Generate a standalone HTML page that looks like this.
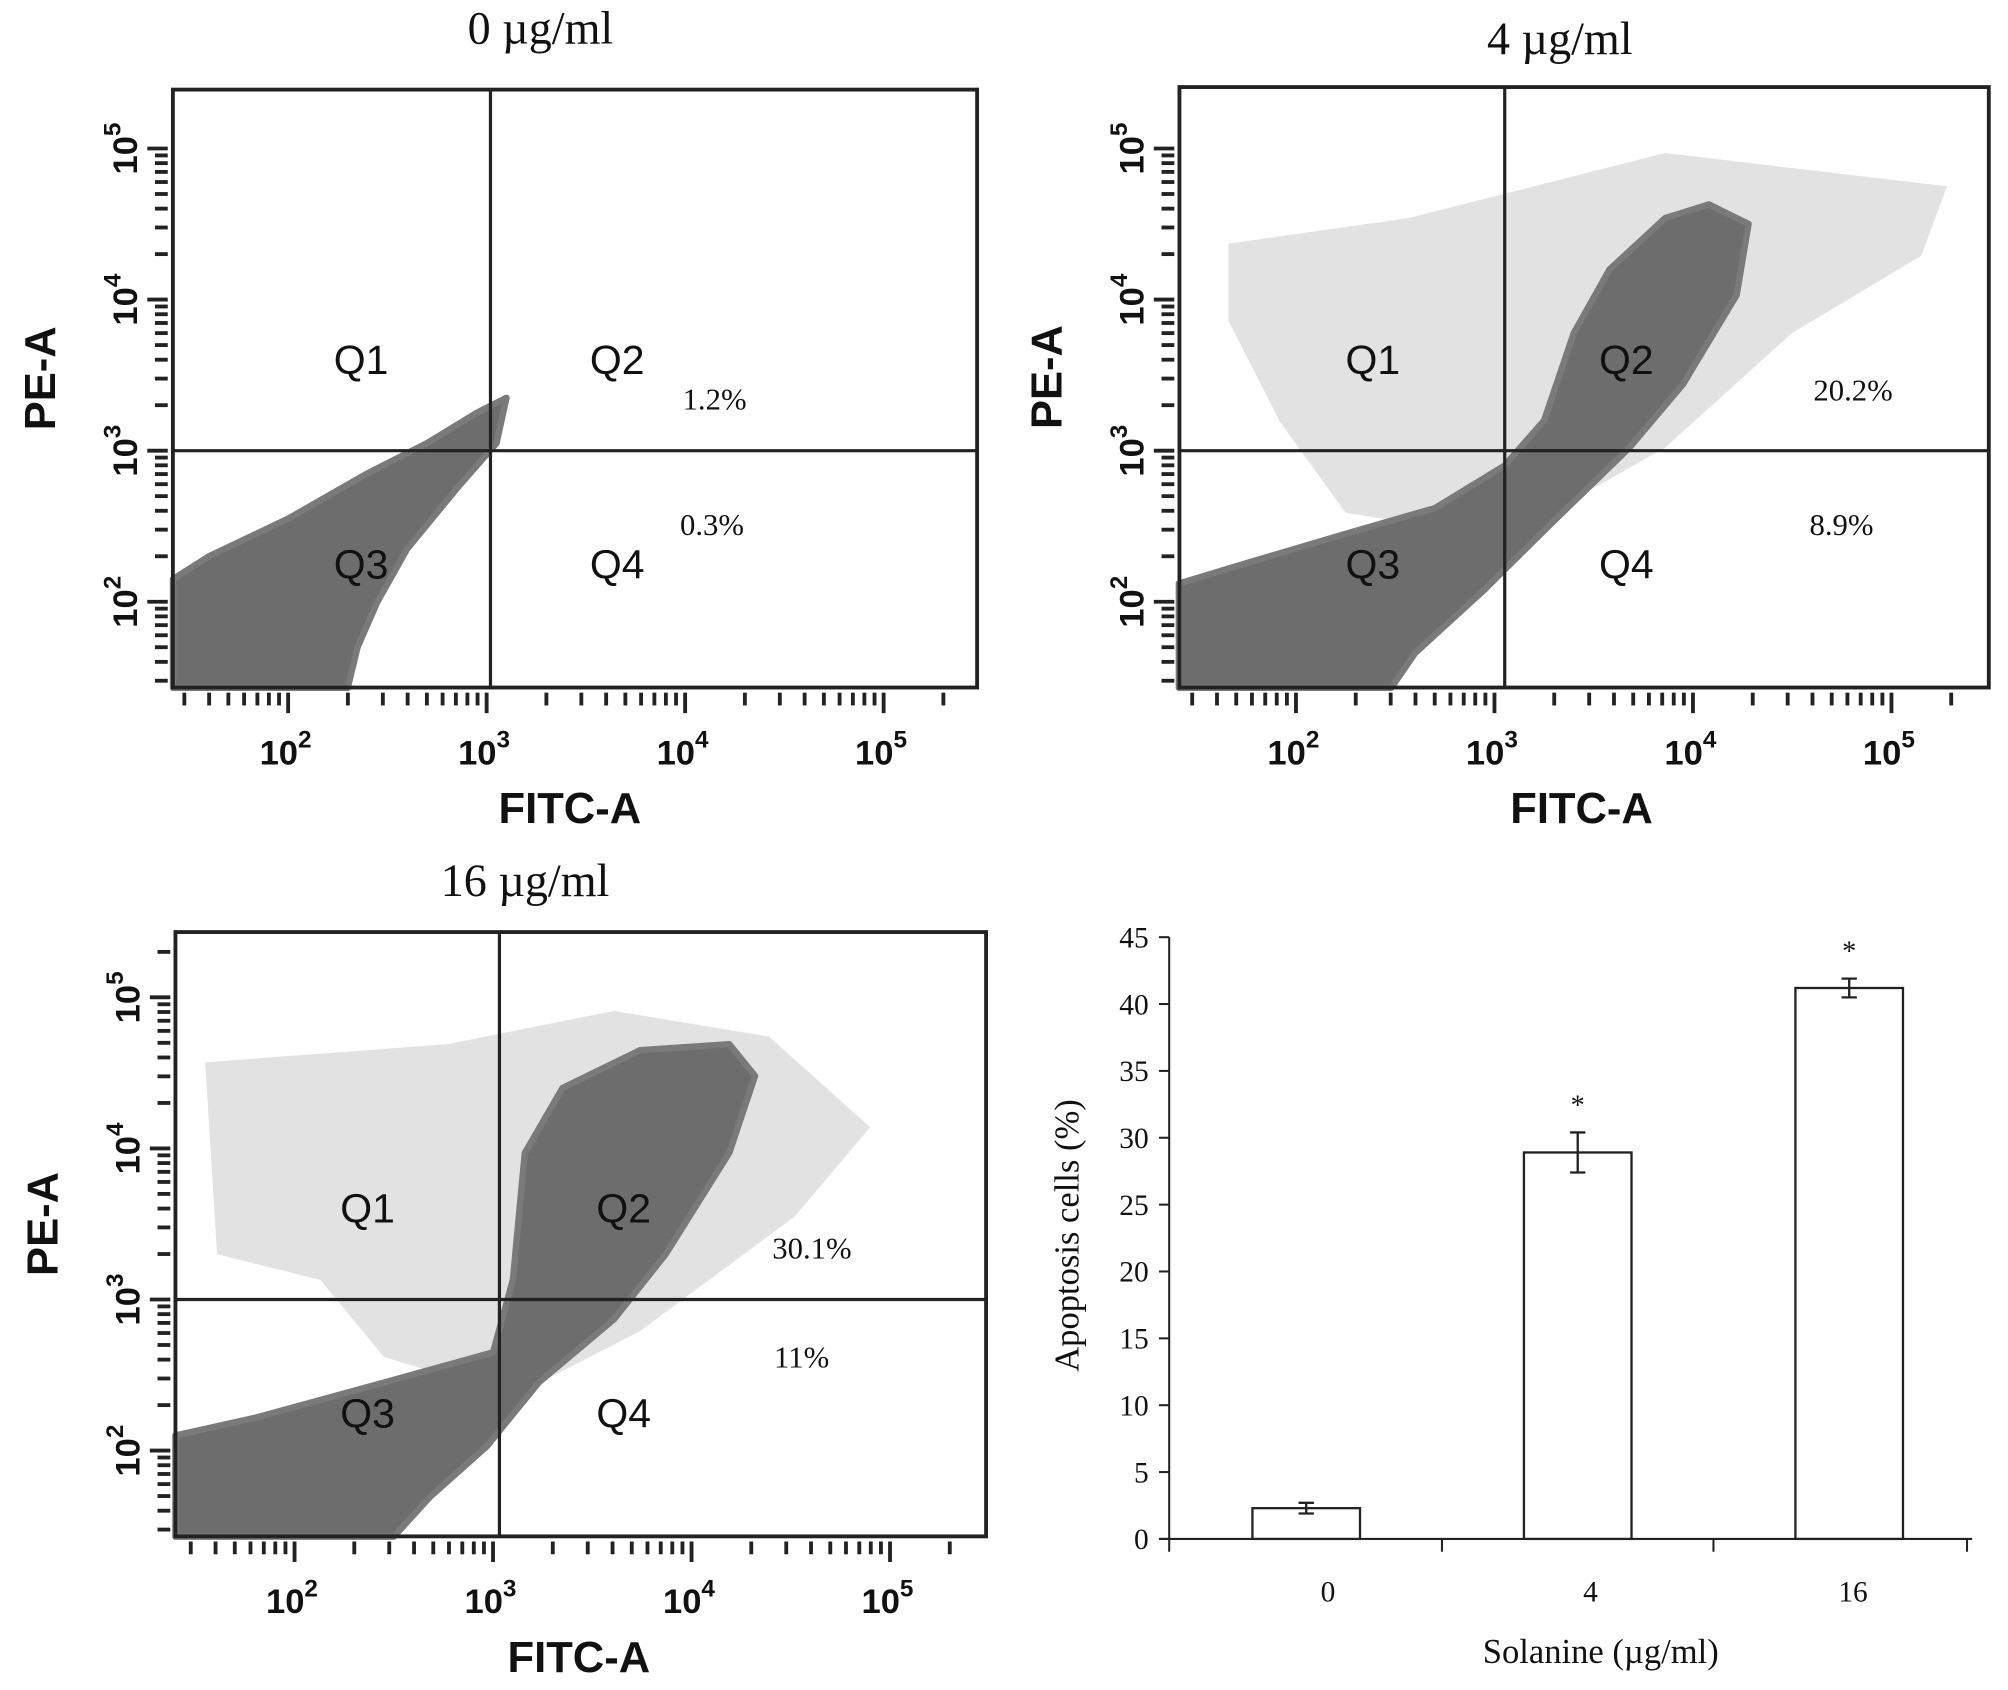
<!DOCTYPE html>
<html><head><meta charset="utf-8"><style>
html,body{margin:0;padding:0;background:#fff;}
svg{display:block;}
.t{font-family:"Liberation Serif",serif;fill:#111;}
.s{font-family:"Liberation Sans",sans-serif;fill:#111;}
</style></head><body>
<svg id="fig" width="2008" height="1690" viewBox="0 0 1568 1320" preserveAspectRatio="none" xmlns="http://www.w3.org/2000/svg"></svg>
<script>
// ---- bar chart data ----
const barCategories = ["0", "4", "16"];
const barValues = [2.3, 28.9, 41.2];
const barErrors = [0.4, 1.5, 0.7];
const barYTicks = [0, 5, 10, 15, 20, 25, 30, 35, 40, 45];
const barStars = [false, true, true];
// ---- flow panels data ----
const panelTitles = ["0 µg/ml", "4 µg/ml", "16 µg/ml"];
const panelQ2Pct = ["1.2%", "20.2%", "30.1%"];
const panelQ4Pct = ["0.3%", "8.9%", "11%"];
const decadeLabels = ["2", "3", "4", "5"];
// dense clouds in log10 (FITC, PE) coords
const cloud0 = [[1.42,1.43],[1.42,2.15],[1.6,2.3],[2.0,2.55],[2.4,2.85],[2.7,3.05],[2.95,3.25],[3.1,3.35],[3.05,3.05],[2.85,2.75],[2.6,2.35],[2.45,2.0],[2.35,1.7],[2.3,1.43]];
const cloud1 = [[1.41,1.43],[1.41,2.12],[1.66,2.22],[2.25,2.45],[2.70,2.62],[3.05,2.9],[3.25,3.2],[3.4,3.78],[3.58,4.20],[3.86,4.54],[4.08,4.63],[4.28,4.50],[4.22,4.03],[3.95,3.44],[3.68,3.02],[3.28,2.51],[2.95,2.08],[2.6,1.66],[2.48,1.43]];
const sparse1 = [[1.66,4.37],[2.57,4.54],[3.86,4.97],[5.28,4.75],[5.15,4.29],[4.50,3.78],[3.86,3.02],[3.05,2.42],[2.25,2.59],[1.92,3.19],[1.66,3.86]];
const cloud2 = [[1.40,1.43],[1.40,2.1],[1.81,2.22],[2.45,2.45],[3.0,2.65],[3.10,3.13],[3.16,3.97],[3.35,4.40],[3.74,4.65],[4.19,4.69],[4.32,4.48],[4.19,3.97],[3.87,3.30],[3.61,2.87],[3.23,2.45],[2.97,2.03],[2.68,1.69],[2.5,1.43]];
const sparse2 = [[1.55,4.57],[2.77,4.69],[3.61,4.91],[4.39,4.74],[4.90,4.14],[4.52,3.55],[3.74,2.79],[3.10,2.36],[2.45,2.62],[2.13,3.13],[1.61,3.30]];

const NS = "http://www.w3.org/2000/svg";
const svg = document.getElementById("fig");
function mk(tag, attrs, parent, text) {
  const e = document.createElementNS(NS, tag);
  for (const k in attrs) e.setAttribute(k, attrs[k]);
  if (text !== undefined) e.textContent = text;
  (parent || svg).appendChild(e);
  return e;
}

const panels = [
  {box:[135,70,763,537], x2:225, y2:470, qx:383, qy:352, title:[422,34], cloud:cloud0, sparse:null, pct2:[558,312], pct4:[556,410], ql:[282,482], fx:445},
  {box:[921,68,1553,537], x2:1012, y2:470, qx:1175, qy:352, title:[1218,42], cloud:cloud1, sparse:sparse1, pct2:[1447,305], pct4:[1438,410], ql:[1072,1270], fx:1235},
  {box:[137,728,770,1200], x2:230, y2:1133, qx:390, qy:1015, title:[410,700], cloud:cloud2, sparse:sparse2, pct2:[634,975], pct4:[626,1060], ql:[287,487], fx:452}
];
const DX = 155, DY = 118;

panels.forEach((p, i) => {
  const g = mk("g", {});
  
  
  const xs = l => p.x2 + (l - 2) * DX;
  const ys = l => p.y2 - (l - 2) * DY;
  const [x0, y0, x1, y1] = p.box;
  const t = mk("text", {x:p.title[0], y:p.title[1], "text-anchor":"middle", "font-size":36, class:"t"}, g, panelTitles[i]);
  
  
  if (p.sparse) {
    const sp = mk("polygon", {points:p.sparse.map(q => xs(q[0]) + "," + ys(q[1])).join(" "), fill:"#8a8a8a", "fill-opacity":0.25, stroke:"none"}, g);
    
    
  }
  const cl = mk("polygon", {points:p.cloud.map(q => xs(q[0]) + "," + ys(q[1])).join(" "), fill:"#6d6d6d", stroke:"#7a7a7a", "stroke-width":5, "stroke-linejoin":"round"}, g);
  
  
  const bx = mk("rect", {x:x0, y:y0, width:x1 - x0, height:y1 - y0, fill:"none", stroke:"#222", "stroke-width":3}, g);
  
  
  const qv = mk("line", {x1:p.qx, y1:y0, x2:p.qx, y2:y1, stroke:"#222", "stroke-width":2.5}, g);
  
  
  const qh = mk("line", {x1:x0, y1:p.qy, x2:x1, y2:p.qy, stroke:"#222", "stroke-width":2.5}, g);
  
  
  for (let d = 1; d <= 5; d++) {
    for (let m = 1; m <= 9; m++) {
      const l = d + Math.log10(m);
      const X = xs(l);
      if (X < x0 + 2 || X > x1 - 5) continue;
      mk("line", {x1:X, y1:y1 + 4, x2:X, y2:y1 + (m === 1 ? 20 : 14), stroke:"#222", "stroke-width":3}, g);
    }
  }
  for (let d = 1; d <= 5; d++) {
    for (let m = 1; m <= 9; m++) {
      const l = d + Math.log10(m);
      const Y = ys(l);
      if (Y > y1 - 2 || Y < y0 + 15) continue;
      mk("line", {x1:x0 - 4, y1:Y, x2:x0 - (m === 1 ? 20 : 14), y2:Y, stroke:"#222", "stroke-width":3}, g);
    }
  }
  decadeLabels.forEach((lab, k) => {
    const X = xs(k + 2);
    const tx = mk("text", {x:X - 2, y:y1 + 60, "text-anchor":"middle", "font-size":27, "font-weight":"bold", class:"s"}, g);
    
    
    mk("tspan", {}, tx, "10");
    mk("tspan", {dy:-13, "font-size":19}, tx, lab);
    const Y = ys(k + 2);
    const ty = mk("text", {x:0, y:0, transform:"translate(" + (x0 - 28) + "," + Y + ") rotate(-90)", "text-anchor":"middle", "font-size":27, "font-weight":"bold", class:"s"}, g);
    
    
    mk("tspan", {}, ty, "10");
    mk("tspan", {dy:-13, "font-size":19}, ty, lab);
  });
  const xt = mk("text", {x:p.fx, y:y1 + 106, "text-anchor":"middle", "font-size":34, "font-weight":"bold", class:"s"}, g, "FITC-A");
  
  
  const yt = mk("text", {x:0, y:0, transform:"translate(" + (x0 - 92) + "," + ((y0 + y1) / 2 - 8) + ") rotate(-90)", "text-anchor":"middle", "font-size":34, "font-weight":"bold", class:"s"}, g, "PE-A");
  
  
  [["Q1", p.ql[0], p.qy - 60], ["Q2", p.ql[1], p.qy - 60], ["Q3", p.ql[0], p.qy + 100], ["Q4", p.ql[1], p.qy + 100]].forEach(q => {
    const ql = mk("text", {x:q[1], y:q[2], "text-anchor":"middle", "font-size":32, class:"s"}, g, q[0]);
    
    
  });
  const p2 = mk("text", {x:p.pct2[0], y:p.pct2[1] + 8, "text-anchor":"middle", "font-size":24, class:"t"}, g, panelQ2Pct[i]);
  
  
  const p4 = mk("text", {x:p.pct4[0], y:p.pct4[1] + 8, "text-anchor":"middle", "font-size":24, class:"t"}, g, panelQ4Pct[i]);
  
  
});

// ---- bar chart ----
const bc = mk("g", {});


const AX = 913, AY0 = 1202, AYTOP = 732, AXEND = 1540;
const yv = v => AY0 - v * (AY0 - AYTOP) / 45;
const catX = k => 1020 + k * 212;
const BW = 84;
const yaxis = mk("line", {x1:AX, y1:AYTOP, x2:AX, y2:AY0, stroke:"#222", "stroke-width":1.6}, bc);


const xaxis = mk("line", {x1:AX - 8, y1:AY0, x2:AXEND, y2:AY0, stroke:"#222", "stroke-width":1.6}, bc);


barYTicks.forEach(v => {
  mk("line", {x1:AX - 8, y1:yv(v), x2:AX, y2:yv(v), stroke:"#222", "stroke-width":1.6}, bc);
  const tl = mk("text", {x:AX - 16, y:yv(v) + 8, "text-anchor":"end", "font-size":23, class:"t"}, bc, String(v));
  
  
});
for (let k = 0; k <= barCategories.length; k++) {
  let X;
  if (k === 0) X = AX;
  else if (k === barCategories.length) X = 1536;
  else X = (catX(k - 1) + catX(k)) / 2;
  mk("line", {x1:X, y1:AY0, x2:X, y2:AY0 + 10, stroke:"#222", "stroke-width":1.6}, bc);
}
barCategories.forEach((c, k) => {
  const cx = catX(k);
  const r = mk("rect", {x:cx - BW / 2, y:yv(barValues[k]), width:BW, height:AY0 - yv(barValues[k]), fill:"#fff", stroke:"#222", "stroke-width":1.8}, bc);
  
  
  const hi = yv(barValues[k] + barErrors[k]), lo = yv(barValues[k] - barErrors[k]);
  const eb = mk("path", {d:"M" + cx + "," + hi + "V" + lo + "M" + (cx - 6) + "," + hi + "H" + (cx + 6) + "M" + (cx - 6) + "," + lo + "H" + (cx + 6), stroke:"#222", "stroke-width":1.8, fill:"none"}, bc);
  
  
  if (barStars[k]) {
    const st = mk("text", {x:cx, y:hi - 14, "text-anchor":"middle", "font-size":22, class:"t"}, bc, "*");
    
    
  }
  const cl = mk("text", {x:cx + 17 - 7 * k, y:1251, "text-anchor":"middle", "font-size":23, class:"t"}, bc, c);
  
  
});
const bxt = mk("text", {x:1250, y:1299, "text-anchor":"middle", "font-size":27, class:"t"}, bc, "Solanine (µg/ml)");


const byt = mk("text", {x:0, y:0, transform:"translate(842,965) rotate(-90)", "text-anchor":"middle", "font-size":27, class:"t"}, bc, "Apoptosis cells (%)");


</script>
</body></html>
